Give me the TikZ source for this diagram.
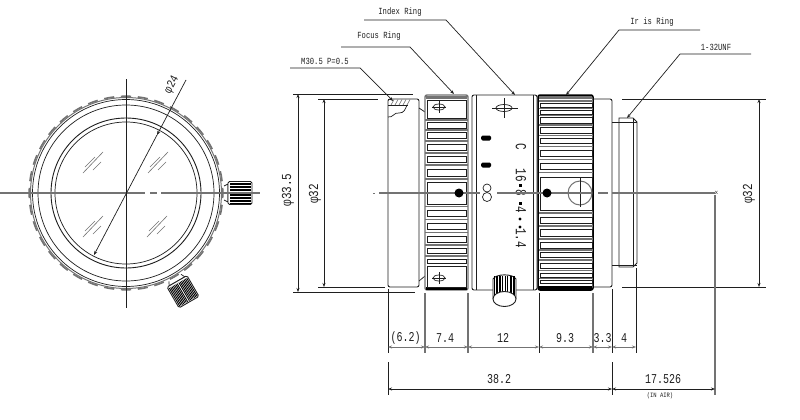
\documentclass[tikz,border=0pt]{standalone}
\usepackage{graphicx}
\usepackage{fontspec}
\setmainfont{Liberation Mono}
\usetikzlibrary{arrows.meta}
\definecolor{ln}{gray}{0.12}
\definecolor{gy}{gray}{0.45}
\newcommand{\tallby}[2]{\scalebox{1}[#1]{#2}}
\tikzset{
  x=1pt,y=-1pt,
  thin line/.style={draw=ln,line width=0.7pt},
  med line/.style={draw=ln,line width=0.9pt},
  gray line/.style={draw=gy,line width=1.4pt},
  thick line/.style={draw=black,line width=1.5pt},
  fine line/.style={draw=gy,line width=0.6pt},
  dimtip/.style={{Stealth[length=4pt,width=3pt]}-{Stealth[length=4pt,width=3pt]}},
  leadertip/.style={draw=ln,line width=0.7pt,-{Stealth[length=4pt,width=3pt]}},
  lab/.style={font=\fontsize{7.2}{8}\selectfont,inner sep=0pt,text=ln},
  dimtext/.style={font=\fontsize{10}{11}\selectfont,inner sep=0pt,text=ln},
  phitext/.style={font=\fontsize{11}{12}\selectfont,inner sep=0pt,text=ln,rotate=90},
  scale text/.style={font=\fontsize{11}{12}\selectfont,inner sep=0pt,text=ln,rotate=-90},
}
\newcommand{\glassmark}[2]{%
  \draw[fine line] (#1-10,#2+11) -- (#1+10,#2-10) (#1-8,#2+5) -- (#1+2,#2-5) (#1,#2+8) -- (#1+8,#2);}
\newcommand{\lensknob}{%
  \draw[thin line,fill=white] (98,-7) -- (102,-9) -- (102,9) -- (98,7);
  \draw[med line,fill=white,rounded corners=1.5] (102,-11.5) rectangle (126,11.5);
  \foreach \k in {-10,-8.5,-7,-5.5,-4,-2.5,-1,1,2.5,4,5.5,7,8.5,10}
    \draw[draw=black,line width=0.9pt] (104,\k) -- (125,\k);
}
\newcommand{\focuscross}[2]{%
  \draw[thin line] (#1,#2) ellipse [x radius=6,y radius=3];
  \draw[med line] (#1-7,#2) -- (#1+7,#2) (#1,#2-6) -- (#1,#2+6);}
\begin{document}
\begin{tikzpicture}
\useasboundingbox (0,0) rectangle (800,420);
\fill[white] (0,0) rectangle (800,420);

% ---------- front view ----------
\coordinate (fc) at (126,193);
\foreach \a in {0,...,35}{
  \draw[draw=gy,line width=1.6pt] (fc) ++({\a*10-3}:96.8) arc[start angle={\a*10-3},end angle={\a*10+3},radius=96.8];
}
\draw[draw=gy,line width=1pt] (fc) circle[radius=95.5];
\draw[thin line] (fc) circle[radius=93.5];
\draw[thin line] (fc) circle[radius=88];
\draw[med line] (fc) circle[radius=75];
\draw[thin line] (fc) circle[radius=71];
\begin{scope}[shift={(126,193)}]
  \lensknob
  \begin{scope}[rotate=-60]\lensknob\end{scope}
\end{scope}
\glassmark{93}{162}\glassmark{158}{162}\glassmark{93}{226}\glassmark{157}{226}
\draw[gray line] (0,193) -- (145,193) (150,193) -- (157,193) (161,193) -- (260,193);
\draw[med line] (126,79) -- (126,308);
\coordinate (d24a) at (186,80);
\coordinate (d24b) at (157,135);
\coordinate (d24c) at (94,255);
\draw[thin line,-{Stealth[length=4pt,width=3pt]}] (d24a) -- (d24b);
\draw[thin line,-{Stealth[length=4pt,width=3pt]}] (d24b) -- (d24c);
\node[dimtext,rotate=62] (t24) at (172,85) {\tallby{1.2}{φ24}};

% ---------- side view: rear body ----------
\draw[med line,rounded corners=2] (388,287) -- (388,99) -- (419,99) -- (419,287) -- cycle;
\draw[thin line] (419,108) -- (425,112) (419,281) -- (425,276);
\draw[thin line] (388,105) -- (408,105);
\foreach \h in {391,395,399,403,407}
  \draw[fine line] (\h,105) -- (\h+3,99.5);
\draw[thin line] (388,117) .. controls (393,118) and (394,112) .. (399,113) .. controls (404,113) and (405,110) .. (407,105);

% ---------- focus ring ----------
\fill[white] (425,95) rectangle (468,290);
\draw[gray line,rounded corners=2] (425,95) rectangle (468,290);
\fill[gy] (426,95.5) rectangle (467,99);
\fill[black] (426,287) rectangle (467,290);
\foreach \a/\b in {100/118,122/128,132/138,144/150,156/162,169/176,182/204,210/216,223/229,236/242,248/253,259/263,266/287}
  \draw[med line,fill=white] (427.5,\a) rectangle (466.5,\b);
\foreach \l in {120,130,141,153,165,179,206.5,219.5,232.5,245,256}
  \draw[gray line] (425,\l) -- (468,\l);
\focuscross{439}{107}
\focuscross{439}{278}

% ---------- index ring ----------
\draw[med line,rounded corners=2,fill=white] (472,95) rectangle (537,290);
\draw[thin line] (476,95) -- (476,290) (533,95) -- (533,290);
\draw[thin line] (504,108) ellipse[x radius=8,y radius=3.5];
\draw[med line] (492,108) -- (518,108) (504,98) -- (504,118);
\fill[black,rounded corners=1.5] (481,135.5) rectangle (491,140.5);
\fill[black,rounded corners=1.5] (481,162.5) rectangle (491,167.5);
\draw[thin line] (487,188) circle[radius=4];
\draw[thin line] (487,197) circle[radius=4.5];
\node[scale text] (sc) at (521,147) {\tallby{1.4}{C}};
\node[scale text] (s16) at (521,175) {\tallby{1.4}{16}};
\fill[black] (518.5,183.5) rectangle (521.5,186.5);
\node[scale text] (s8) at (521,192.5) {\tallby{1.4}{8}};
\fill[black] (518.5,201.5) rectangle (521.5,204.5);
\node[scale text] (s4) at (521,209.5) {\tallby{1.4}{4}};
\fill[black] (520,219) circle[radius=1.6];
\fill[black] (520,227) circle[radius=1.6];
\node[scale text] (s14) at (521,238) {\tallby{1.4}{1.4}};
% index knob
\fill[white] (493,278) rectangle (516,299);
\draw[med line,fill=white] (493,299) -- (493,279) .. controls (496,273.5) and (513,273.5) .. (516,279) -- (516,299);
\foreach \k in {494.5,496,497.5,499,500.5,502,505,507.5,510,511.5,513,514.5}
  \draw[draw=black,line width=0.9pt] (\k,276) -- (\k,297);
\draw[med line,fill=white] (504.5,299) ellipse[x radius=11.5,y radius=7.5];

% ---------- iris ring ----------
\draw[thick line,rounded corners=2,fill=white] (538,95) rectangle (593,290);
\fill[gy] (539,95.5) rectangle (592,99);
\fill[black] (539,286) rectangle (592,290);
\foreach \a/\b in {103/107,110/114,117/123,127/133,138/143,150/156,163/169,177/210,217/223,229/236,242/248,252/257,263/268,273/277,280/283}
  \draw[med line] (540,\a) rectangle (592,\b);
\foreach \l in {101,108.5,115.5,125,135.5,146.5,159.5,172.5,213,226,239,250,260,270.5,278.5}
  \draw[gray line] (538.5,\l) -- (592.5,\l);
\draw[draw=gy,line width=1pt] (580,193) circle[radius=12];
\draw[thin line] (580,178) -- (580,207);

% ---------- rear section, mount ----------
\draw[med line,rounded corners=2] (593,99) -- (612,99) -- (612,287) -- (593,287);
\draw[med line] (612,122) -- (619,122) (612,265) -- (619,265);
\draw[med line] (619,267) -- (619,118) -- (633,118) -- (637,122) -- (637,263) -- (633,267) -- cycle;
\draw[thin line] (633,118) -- (633,267) (619,122) -- (637,122) (619,265) -- (637,265);

% ---------- centre line ----------
\draw[gray line] (379,193) -- (480,193) (497,193) -- (592,193) (598,193) -- (608,193) (612,193) -- (715,193);
\fill[gy] (373,192.5) rectangle (375,193.5);
\node[dimtext,font=\fontsize{6}{6}\selectfont] (xm) at (716.5,193) {x};
\fill[black] (459,193) circle[radius=4.5];
\fill[black] (547,193) circle[radius=4.5];

% ---------- dimension lines ----------
\draw[med line] (293,94) -- (413,94) (293,292) -- (415,292);
\draw[med line] (318,99) -- (378,99) (318,287) -- (385,287);
\draw[med line] (622,99) -- (766,99) (622,287) -- (766,287);
\coordinate (a1) at (298,94); \coordinate (a2) at (298,292);
\coordinate (b1) at (324,99); \coordinate (b2) at (324,287);
\coordinate (c1) at (759,99); \coordinate (c2) at (759,287);
\draw[thin line,dimtip] (a1) -- (a2);
\draw[thin line,dimtip] (b1) -- (b2);
\draw[thin line,dimtip] (c1) -- (c2);
\node[phitext] (p335) at (288,190) {\tallby{1.25}{φ33.5}};
\node[phitext] (p32a) at (315,194) {\tallby{1.25}{φ32}};
\node[phitext] (p32b) at (749,194) {\tallby{1.25}{φ32}};

\foreach \n/\x in {k0/388,k1/425,k2/468,k3/539,k4/593,k5/612,k6/636}
  \coordinate (\n) at (\x,347);
\draw[thin line] (388,289) -- (388,353) (388,362) -- (388,395);
\draw[gray line] (425,293) -- (425,353) (468,293) -- (468,353) ;
\draw[med line] (539,293) -- (539,353);
\draw[gray line] (593,293) -- (593,353);
\draw[med line] (612,289) -- (612,353) (612,362) -- (612,395);
\draw[thin line] (636,268) -- (636,353);
\draw[gray line] (715,195) -- (715,395);
\foreach \p/\q in {k0/k1,k1/k2,k2/k3,k3/k4,k4/k5,k5/k6}
  \draw[draw=gy,line width=1pt,dimtip] (\p) -- (\q);
\coordinate (m0) at (388,389); \coordinate (m1) at (612,389); \coordinate (m2) at (715,389);
\draw[thin line,dimtip] (m0) -- (m1);
\draw[thin line,dimtip] (m1) -- (m2);

\node[dimtext] (d62) at (405.5,338) {\tallby{1.35}{(6.2)}};
\node[dimtext] (d74) at (445,338) {\tallby{1.35}{7.4}};
\node[dimtext] (d12) at (503,338) {\tallby{1.35}{12}};
\node[dimtext] (d93) at (565,338) {\tallby{1.35}{9.3}};
\node[dimtext] (d33) at (602.5,338) {\tallby{1.35}{3.3}};
\node[dimtext] (d4) at (624,338) {\tallby{1.35}{4}};
\node[dimtext] (d382) at (499,379) {\tallby{1.35}{38.2}};
\node[dimtext] (d175) at (663,379) {\tallby{1.35}{17.526}};
\node[lab,font=\fontsize{5.5}{6}\selectfont] (air) at (660,396) {\tallby{1.2}{(IN AIR)}};

% ---------- leaders ----------
\node[lab] (lm) at (325,61) {\tallby{1.3}{M30.5 P=0.5}};
\node[lab] (lf) at (379,36) {\tallby{1.3}{Focus Ring}};
\node[lab] (li) at (400,12) {\tallby{1.3}{Index Ring}};
\node[lab] (lr) at (652,22) {\tallby{1.3}{Ir is Ring}};
\node[lab] (lu) at (716,47) {\tallby{1.3}{1-32UNF}};
\coordinate (m1s) at (290,68); \coordinate (m1k) at (360,68); \coordinate (m1e) at (393,101);
\coordinate (f1s) at (341,47); \coordinate (f1k) at (410,47); \coordinate (f1e) at (454,94);
\coordinate (i1s) at (364,20); \coordinate (i1k) at (446,20); \coordinate (i1e) at (515,95);
\coordinate (r1s) at (700,30); \coordinate (r1k) at (619,30); \coordinate (r1e) at (566,95);
\coordinate (u1s) at (751,54); \coordinate (u1k) at (680,54); \coordinate (u1e) at (627,118);
\draw[leadertip] (m1s) -- (m1k) -- (m1e);
\draw[leadertip] (f1s) -- (f1k) -- (f1e);
\draw[leadertip] (i1s) -- (i1k) -- (i1e);
\draw[leadertip] (r1s) -- (r1k) -- (r1e);
\draw[leadertip] (u1s) -- (u1k) -- (u1e);
\end{tikzpicture}
\end{document}
